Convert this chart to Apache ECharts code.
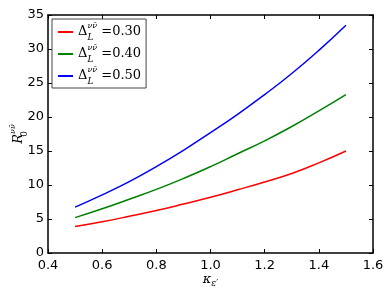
<!DOCTYPE html>
<html>
<head>
<meta charset="utf-8">
<script src="https://cdn.jsdelivr.net/npm/echarts@6/dist/echarts.min.js"></script>
<style>html,body{margin:0;padding:0;background:#fff;}#c{width:392px;height:296px;}</style>
</head>
<body>
<div id="c"></div>
<script>
const kappa = [0.5, 0.6, 0.7, 0.8, 0.9, 1.0, 1.1, 1.2, 1.3, 1.4, 1.5];
const r030 = [3.9, 4.6, 5.4, 6.25, 7.2, 8.2, 9.3, 10.45, 11.7, 13.25, 15.0];
const r040 = [5.2, 6.5, 7.9, 9.35, 10.95, 12.7, 14.6, 16.5, 18.6, 20.9, 23.3];
const r050 = [6.75, 8.55, 10.5, 12.7, 15.1, 17.7, 20.4, 23.3, 26.4, 29.8, 33.5];
const labels = ['0.30', '0.40', '0.50'];
const colors = ['#ff0000', '#008000', '#0000ff'];
const seriesVals = [r030, r040, r050];
const xTicks = [0.4, 0.6, 0.8, 1.0, 1.2, 1.4, 1.6];
const yTicks = [0, 5, 10, 15, 20, 25, 30, 35];

const chart = echarts.init(document.getElementById('c'), null, {renderer: 'canvas'});
const axisCommon = {
  axisLine: {show: true, onZero: false, lineStyle: {color: '#000', width: 1.5}},
  axisTick: {show: true, inside: true, length: 4, lineStyle: {color: '#000', width: 1}},
  splitLine: {show: false}
};
const tickFont = {color: '#000', fontSize: 13, fontFamily: 'DejaVu Sans'};
const mathRich = {
  m: {fontFamily: 'DejaVu Serif', fontSize: 13, color: '#000', lineHeight: 20},
  sub: {fontFamily: 'DejaVu Serif', fontStyle: 'italic', fontSize: 9, color: '#000', verticalAlign: 'bottom', lineHeight: 12, width: 0, align: 'left'},
  sup: {fontFamily: 'DejaVu Serif', fontStyle: 'italic', fontSize: 8, color: '#000', verticalAlign: 'top', lineHeight: 10}
};
const option = {
  animation: false,
  backgroundColor: '#fff',
  grid: {left: 48, right: 19, top: 15, bottom: 43, outerBoundsMode: 'none', containLabel: false},
  legend: {
    left: 52, top: 19, orient: 'vertical',
    backgroundColor: '#fff', borderColor: '#444', borderWidth: 1,
    padding: [3, 5, 2, 6],
    itemGap: 2, itemWidth: 15, itemHeight: 2, icon: 'rect', itemTextGap: 10,
    data: labels.map(l => ({name: l})),
    formatter: function (name) {
      return '{m|Δ}{sub|L}{sup|νν̄}{m| =' + name + '}';
    },
    textStyle: {rich: mathRich}
  },
  xAxis: [
    Object.assign({type: 'value', min: 0.4, max: 1.6, interval: 0.2, position: 'bottom',
      axisLabel: Object.assign({margin: 6, formatter: v => v.toFixed(1)}, tickFont),
      name: '{k|κ}{s|ε′}', nameLocation: 'middle', nameGap: 18, nameMoveOverlap: false,
      nameTextStyle: {rich: {
        k: {fontFamily: 'DejaVu Serif', fontStyle: 'italic', fontSize: 13, color: '#000'},
        s: {fontFamily: 'DejaVu Serif', fontStyle: 'italic', fontSize: 9, color: '#000', padding: [8, 0, 0, 0]}
      }}}, axisCommon),
    Object.assign({type: 'value', min: 0.4, max: 1.6, interval: 0.2, position: 'top',
      axisLabel: {show: false}}, axisCommon)
  ],
  yAxis: [
    Object.assign({type: 'value', min: 0, max: 35, interval: 5, position: 'left',
      axisLabel: Object.assign({margin: 4}, tickFont),
      name: '{r|R}{s|0}{p|νν̄}', nameLocation: 'middle', nameGap: 19, nameRotate: 90, nameMoveOverlap: false,
      nameTextStyle: {rich: {
        r: {fontFamily: 'DejaVu Serif', fontStyle: 'italic', fontSize: 13, color: '#000', lineHeight: 20},
        s: {fontFamily: 'DejaVu Serif', fontSize: 9, color: '#000', verticalAlign: 'bottom', lineHeight: 12, width: 0, align: 'left'},
        p: {fontFamily: 'DejaVu Serif', fontStyle: 'italic', fontSize: 8, color: '#000', verticalAlign: 'top', lineHeight: 10}
      }}}, axisCommon),
    Object.assign({type: 'value', min: 0, max: 35, interval: 5, position: 'right',
      axisLabel: {show: false}}, axisCommon)
  ],
  series: labels.map((l, k) => ({
    name: l, type: 'line', xAxisIndex: 0, yAxisIndex: 0,
    data: kappa.map((x, j) => [x, seriesVals[k][j]]),
    showSymbol: false, symbol: 'none', smooth: true,
    lineStyle: {color: colors[k], width: 1.5},
    itemStyle: {color: colors[k]}
  }))
};
chart.setOption(option);
</script>
</body>
</html>
